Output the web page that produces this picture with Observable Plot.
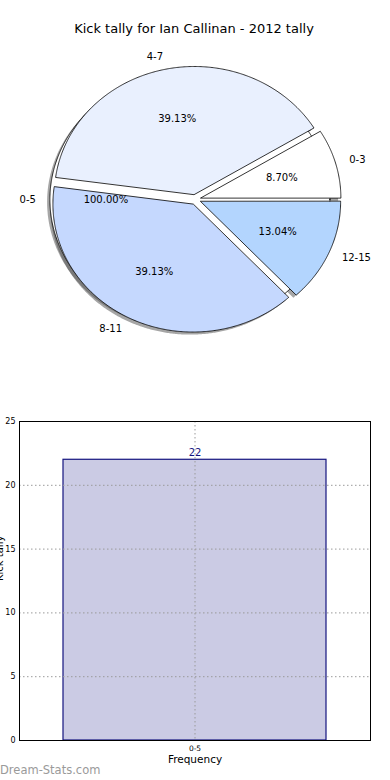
<!DOCTYPE html>
<html><head><meta charset="utf-8">
<script src="https://cdn.jsdelivr.net/npm/d3@7"></script>
<script src="https://cdn.jsdelivr.net/npm/@observablehq/plot@0.6"></script>
<style>
body{margin:0;background:#fff;font-family:"DejaVu Sans",sans-serif;}
#wrap{position:relative;width:390px;height:780px;overflow:hidden;background:#fff;}
#title{position:absolute;top:21px;left:0;width:388px;text-align:center;font-size:13px;color:#000;}
#pie{position:absolute;top:40px;left:0;}
#bar{position:absolute;top:400px;left:0;}
#wm{position:absolute;left:0;top:763px;font-size:11.5px;color:#9a9a9a;}
</style></head><body>
<div id="wrap">
<div id="title">Kick tally for Ian Callinan - 2012 tally</div>
<div id="pie"></div>
<div id="bar"></div>
<div id="wm">Dream-Stats.com</div>
</div>
<script>
// ---- data ----
const pieCategories = ["0-3", "4-7", "8-11", "12-15"];
const pieValues = [2, 9, 9, 3];
const pieColors = ["#ffffff", "#e9f0fe", "#c5d8fe", "#b3d5fe"];
const outerCategories = ["0-5"];
const outerValues = [22];
const barCategories = ["0-5"];
const barValues = [22];
const yTicks = [0, 5, 10, 15, 20, 25];

// ---- pie geometry (in unit data space, mapped by Plot scales) ----
const EXPLODE = 0.04;
function buildWedges(cats, vals, colors) {
  const total = d3.sum(vals);
  let a = 0;
  return cats.map((c, i) => {
    const a0 = a, a1 = a + vals[i] / total * 2 * Math.PI;
    a = a1;
    const mid = (a0 + a1) / 2;
    const cx = EXPLODE * Math.cos(mid), cy = EXPLODE * Math.sin(mid);
    const full = (a1 - a0) > 2 * Math.PI - 1e-6;
    const pts = [];
    if (!full) pts.push({x: cx, y: cy});
    const n = Math.max(8, Math.ceil((a1 - a0) / (Math.PI / 360)));
    for (let k = 0; k <= n; k++) {
      const t = a0 + (a1 - a0) * k / n;
      pts.push({x: cx + Math.cos(t), y: cy + Math.sin(t)});
    }
    return {
      cat: c, color: colors ? colors[i] : "#ffffff", pts, mid, cx, cy,
      pct: (vals[i] / total * 100).toFixed(2) + "%",
      lx: cx + 1.1 * Math.cos(mid), ly: cy + 1.1 * Math.sin(mid),
      px: cx + 0.6 * Math.cos(mid), py: cy + 0.6 * Math.sin(mid)
    };
  });
}
const inner = buildWedges(pieCategories, pieValues, pieColors);
const outer = buildWedges(outerCategories, outerValues, null);
const all = [...outer, ...inner];

const shadowMarks = all.map(w => Plot.line(w.pts, {
  x: d => d.x - 0.02, y: d => d.y - 0.02, curve: "linear-closed",
  fill: "#4d4d4d", fillOpacity: 0.5, stroke: "none"
}));
const outerMarks = outer.map(w => Plot.line(w.pts, {
  x: "x", y: "y", curve: "linear-closed", fill: "#ffffff", stroke: "#000", strokeWidth: 0.8
}));
const wedgeMarks = inner.map(w => Plot.line(w.pts, {
  x: "x", y: "y", curve: "linear-closed", fill: w.color, stroke: "#000", strokeWidth: 0.8
}));
const leftLabels = all.filter(w => w.lx < 0);
const rightLabels = all.filter(w => w.lx >= 0);

const pie = Plot.plot({
  width: 390, height: 330, margin: 0,
  style: {fontFamily: "DejaVu Sans", fontSize: "10px", background: "transparent"},
  x: {domain: [-1, 1], range: [55, 335], axis: null},
  y: {domain: [-1, 1], range: [287, 31], axis: null},
  marks: [
    ...shadowMarks,
    ...outerMarks,
    ...wedgeMarks,
    Plot.text(leftLabels, {x: "lx", y: "ly", text: "cat", textAnchor: "end", fill: "#000", fontSize: 10}),
    Plot.text(rightLabels, {x: "lx", y: "ly", text: "cat", textAnchor: "start", fill: "#000", fontSize: 10}),
    Plot.text(all, {x: "px", y: "py", text: "pct", textAnchor: "middle", fill: "#000", fontSize: 10})
  ]
});
document.getElementById("pie").append(pie);

// ---- bar chart ----
const barData = barCategories.map((c, i) => ({c, v: barValues[i]}));
const bar = Plot.plot({
  width: 390, height: 370,
  marginTop: 21, marginBottom: 30, marginLeft: 19, marginRight: 20,
  style: {fontFamily: "DejaVu Sans", background: "transparent"},
  x: {type: "band", domain: barCategories, paddingInner: 0.25, paddingOuter: 0, align: 0.5, axis: null},
  y: {domain: [0, 25], axis: null},
  marks: [
    Plot.barY(barData, {x: "c", y: "v", fill: "#cbcbe4", stroke: "#15157f", strokeWidth: 1.2}),
    Plot.gridY(yTicks.slice(1, -1), {stroke: "#9a9a9a", strokeOpacity: 1, strokeDasharray: "1.5,2.5"}),
    Plot.gridX(barCategories, {stroke: "#9a9a9a", strokeOpacity: 1, strokeDasharray: "1.5,2.5"}),
    Plot.axisY(yTicks, {tickSize: 0, tickPadding: 4, fontSize: 8, label: null}),
    Plot.axisX(barCategories, {tickSize: 0, tickPadding: 5, fontSize: 7.5, label: null}),
    Plot.text(barData, {x: "c", y: "v", text: d => String(d.v), dy: -7, fill: "#15157f", fontSize: 10}),
    Plot.frame({stroke: "#000", strokeWidth: 1}),
    Plot.text(["Frequency"], {frameAnchor: "bottom", dy: 22, fontSize: 10.5, fill: "#000"}),
    Plot.text(["Kick tally"], {frameAnchor: "left", dx: -20, rotate: -90, fontSize: 10, fill: "#000"})
  ]
});
document.getElementById("bar").append(bar);
</script>
</body></html>
